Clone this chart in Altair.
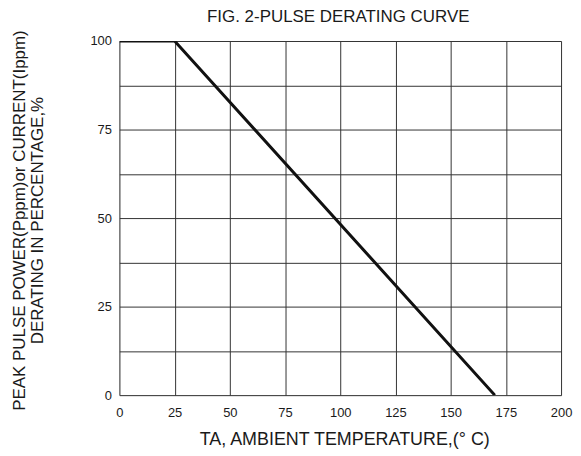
import altair as alt
import pandas as pd

temps = [0, 25, 170]
derating = [100, 100, 0]
x_ticks = [0, 25, 50, 75, 100, 125, 150, 175, 200]
y_grid = [0, 12.5, 25, 37.5, 50, 62.5, 75, 87.5, 100]

df = pd.DataFrame({"t": temps, "d": derating})

FONT = "Liberation Sans"

chart = alt.Chart(df).mark_line(color="#111111", strokeWidth=3, clip=True).encode(
    x=alt.X("t:Q", scale=alt.Scale(domain=[0, 200], nice=False),
            axis=alt.Axis(values=x_ticks, title="TA, AMBIENT TEMPERATURE,(° C)",
                          ticks=False, domain=False, labelPadding=11,
                          labelFontSize=13, labelColor="#1a1a1a", labelFont=FONT,
                          titleFont=FONT, titleFontSize=18, titleFontWeight="normal",
                          titleColor="#1a1a1a", titleX=226, titleY=45, titleBaseline="middle",
                          gridColor="#333333", gridWidth=1, gridOpacity=1,
                          labelFlush=False)),
    y=alt.Y("d:Q", scale=alt.Scale(domain=[0, 100], nice=False),
            axis=alt.Axis(values=y_grid, title=["PEAK PULSE POWER(Pppm)or CURRENT(Ippm)",
                                                 "DERATING IN PERCENTAGE,%"],
                          labelExpr="datum.value % 25 == 0 ? datum.label : ''",
                          ticks=False, domain=False, labelPadding=8,
                          labelFontSize=13, labelColor="#1a1a1a", labelFont=FONT,
                          titleFont=FONT, titleFontSize=17, titleFontWeight="normal",
                          titleColor="#1a1a1a", titleX=-108, titleY=180,
                          titleBaseline="top", titleAlign="center",
                          titleLineHeight=18,
                          gridColor="#333333", gridWidth=1, gridOpacity=1,
                          labelFlush=False)),
).properties(
    width=444, height=356,
    autosize=alt.AutoSizeParams(type="none"),
    padding={"left": 112, "top": 32, "right": 12, "bottom": 60},
    title=alt.TitleParams("FIG. 2-PULSE DERATING CURVE", font=FONT, fontSize=17,
                          fontWeight="normal", color="#1a1a1a", offset=4, dx=-2),
).configure_view(stroke="#111111", strokeWidth=1.5).configure(background="white")

chart.save("out.html", embed_options={"renderer": "svg", "actions": False})
